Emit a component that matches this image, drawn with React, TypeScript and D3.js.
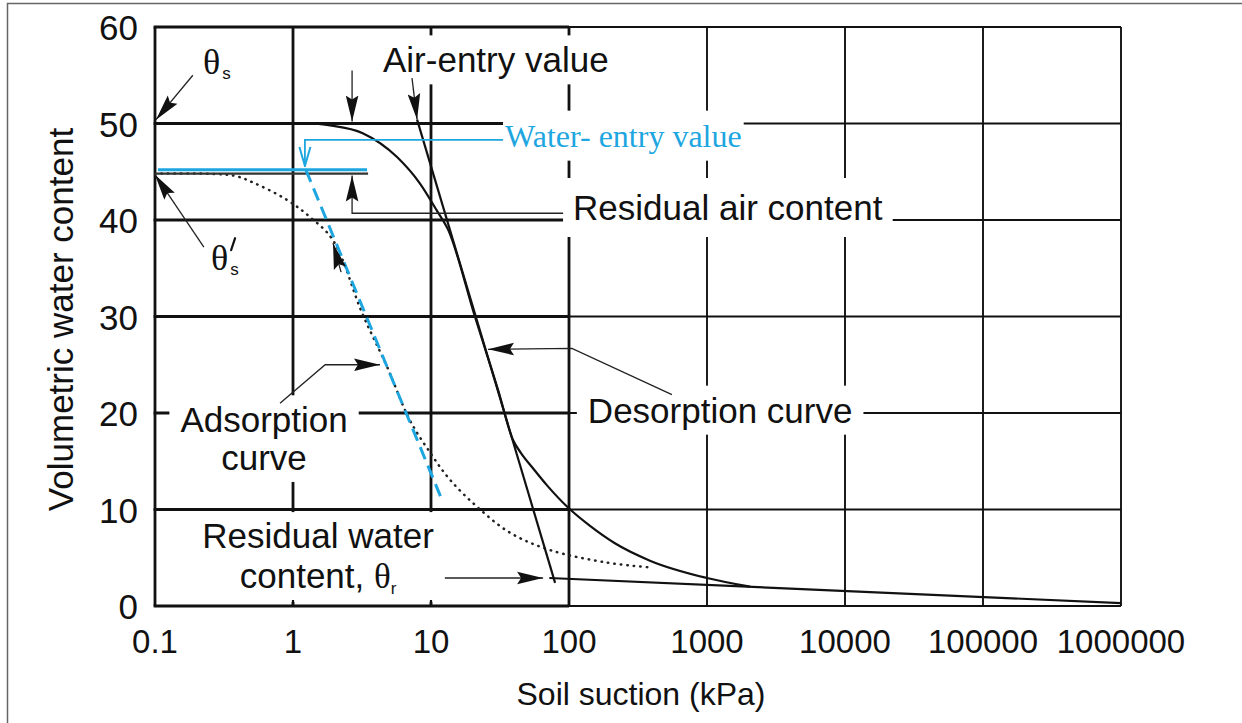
import * as d3 from 'd3';
import React, { useRef, useEffect } from 'react';

const width = 1242;
const height = 723;
const margin = { top: 27, right: 121, bottom: 117, left: 155 };

const SANS = '"Liberation Sans", Arial, sans-serif';
const SERIF = '"Liberation Serif", "Times New Roman", serif';
const BLUE = '#1DA6E0';
const INK = '#111';

// axes
const xTicks = [0.1, 1, 10, 100, 1000, 10000, 100000, 1000000];
const xTickLabels = ['0.1', '1', '10', '100', '1000', '10000', '100000', '1000000'];
const yTicks = [0, 10, 20, 30, 40, 50, 60];

// desorption (drying) curve, suction in kPa and volumetric water content in %
const desorptionSuction = [1.4, 1.85, 3.2, 5.7, 8.3, 11.0, 13.3, 20.8, 30.6, 39.3, 44.9, 53.9, 69.3, 98.4, 142, 215, 386, 1000, 2050];
const desorptionTheta = [50, 49.8, 49.0, 46.5, 43.8, 41.0, 39.0, 30.0, 22.4, 17.2, 15.85, 14.4, 12.5, 10.2, 8.3, 6.5, 4.7, 2.9, 2.0];

// residual branch of the desorption curve
const residualSuction = [72, 1000000];
const residualTheta = [2.9, 0.3];

// tangent used for the air-entry value
const tangentSuction = [7.93, 79.3];
const tangentTheta = [50.4, 2.4];

// adsorption (wetting) curve
const adsorptionSuction = [0.1, 0.37, 0.51, 0.9, 1.33, 1.95, 3.2, 4.8, 7.0, 9.85, 13.7, 21.5, 37.3, 72.8, 188, 386];
const adsorptionTheta = [44.8, 44.6, 43.9, 42.1, 40.3, 37.9, 30.2, 24.8, 19.3, 15.9, 13.1, 10.3, 7.6, 5.8, 4.5, 4.0];

// tangent used for the water-entry value
const waterEntrySuction = [1.24, 12.0];
const waterEntryTheta = [45.2, 11.0];

// plateau lines at the wetting saturation
const plateauSuction = [0.1, 3.5];
const plateauTheta = 44.8;
const plateauBlueSuction = [0.105, 3.44];
const plateauBlueTheta = 45.2;

// leader arrows: [suction, theta] points, arrow head at the last one
const arrows = [
  [[0.188, 55.0], [0.1017, 50.4]],
  [[0.226, 37.2], [0.1, 44.7]],
  [[2.68, 55.5], [2.68, 50.2]],
  [[7.28, 54.7], [7.93, 50.4]],
  [[90.6, 40.7], [2.68, 40.7], [2.68, 44.6]],
  [[0.805, 21.0], [1.71, 25.0], [4.27, 25.0]],
  [[2.23, 34.6], [1.95, 37.6]],
  [[557, 21.9], [105, 26.7], [25.9, 26.6]],
  [[12.6, 2.9], [64.9, 2.9]],
];
const waterEntryLeader = [[33.3, 48.3], [1.22, 48.3], [1.22, 45.6]];

const App = () => {
  const svgRef = useRef<SVGSVGElement>(null);

  useEffect(() => {
    const svg = d3.select(svgRef.current);
    svg.selectAll('*').remove();

    const x = d3.scaleLog().domain([0.1, 1000000]).range([margin.left, width - margin.right]);
    const y = d3.scaleLinear().domain([0, 60]).range([height - margin.bottom, margin.top]);
    const [x0, x1] = x.range();
    const [y0, y1] = y.range();
    const boxRight = x(100);

    const defs = svg.append('defs');
    defs.append('marker')
      .attr('id', 'arrow')
      .attr('viewBox', '0 -7 26 14')
      .attr('refX', 26).attr('refY', 0)
      .attr('markerWidth', 26).attr('markerHeight', 14)
      .attr('markerUnits', 'userSpaceOnUse')
      .attr('orient', 'auto')
      .append('path')
      .attr('d', 'M0,-6.3L26,0L0,6.3L4,0Z')
      .attr('fill', INK);
    defs.append('marker')
      .attr('id', 'arrowBlue')
      .attr('viewBox', '-1 -7 21 14')
      .attr('refX', 19).attr('refY', 0)
      .attr('markerWidth', 21).attr('markerHeight', 14)
      .attr('markerUnits', 'userSpaceOnUse')
      .attr('orient', 'auto')
      .append('path')
      .attr('d', 'M0,-5.5L19,0L0,5.5')
      .attr('fill', 'none')
      .attr('stroke', BLUE)
      .attr('stroke-width', 2);

    // outer frame of the figure
    svg.append('rect')
      .attr('x', 7.5).attr('y', 3.5)
      .attr('width', width).attr('height', height)
      .attr('fill', 'none').attr('stroke', '#666').attr('stroke-width', 1.5);

    // grid
    const grid = svg.append('g');
    xTicks.forEach(t => {
      grid.append('line')
        .attr('x1', x(t)).attr('x2', x(t))
        .attr('y1', y1).attr('y2', y0)
        .attr('stroke', INK)
        .attr('stroke-width', t <= 100 ? 2.8 : 1.9);
    });
    yTicks.forEach(t => {
      grid.append('line')
        .attr('x1', x0).attr('x2', x1)
        .attr('y1', y(t)).attr('y2', y(t))
        .attr('stroke', INK).attr('stroke-width', 1.9);
      grid.append('line')
        .attr('x1', x0 - 1.4).attr('x2', boxRight)
        .attr('y1', y(t)).attr('y2', y(t))
        .attr('stroke', INK).attr('stroke-width', 2.8);
    });

    // labels with a white box that breaks the grid behind them
    const label = (
      xPos: number,
      baselines: number[],
      lines: { text: string; font?: string; size?: number; dy?: number }[][],
      anchor: string,
      pad: [number, number],
      fill = INK,
      font = SANS,
      size = 35
    ) => {
      const g = svg.append('g');
      const rect = g.append('rect').attr('fill', 'white');
      lines.forEach((parts, i) => {
        const txt = g.append('text')
          .attr('x', xPos).attr('y', baselines[i])
          .attr('text-anchor', anchor)
          .attr('font-family', font)
          .attr('font-size', size)
          .attr('fill', fill);
        parts.forEach(p => {
          txt.append('tspan')
            .attr('font-family', p.font || font)
            .attr('font-size', p.size || size)
            .attr('dy', p.dy || 0)
            .text(p.text);
        });
      });
      const bb = (g.node() as SVGGElement).getBBox();
      rect.attr('x', bb.x - pad[0]).attr('y', bb.y - pad[1])
        .attr('width', bb.width + 2 * pad[0]).attr('height', bb.height + 2 * pad[1]);
    };

    label(x(4.49), [y(55.3)], [[{ text: 'Air-entry value' }]], 'start', [3, 5]);
    label(x(34.4), [y(47.6)], [[{ text: 'Water- entry value' }]], 'start', [2, 7], BLUE, SERIF, 32);
    label(x(107), [y(40)], [[{ text: 'Residual air content' }]], 'start', [10, 10]);
    label(x(137), [y(19)], [[{ text: 'Desorption curve' }]], 'start', [11, 5]);
    label(x(0.617), [y(18), y(14.1)], [[{ text: 'Adsorption' }], [{ text: 'curve' }]], 'middle', [11, 5]);
    label(
      x(1.52), [y(6.0), y(1.87)],
      [[{ text: 'Residual water' }], [{ text: 'content, ' }, { text: 'θ', font: SERIF }, { text: 'r', size: 17, dy: 6 }]],
      'middle', [5, 4]
    );

    // small ticks on the bottom axis inside the residual water box
    [1, 10].forEach(t => {
      svg.append('line')
        .attr('x1', x(t)).attr('x2', x(t))
        .attr('y1', y0 - 6).attr('y2', y0)
        .attr('stroke', INK).attr('stroke-width', 2.2);
    });

    // θs and θ's
    const thetaS = svg.append('text').attr('x', x(0.223)).attr('y', y(55.1))
      .attr('font-family', SERIF).attr('font-size', 36).attr('fill', INK);
    thetaS.append('tspan').text('θ');
    thetaS.append('tspan').attr('font-family', SANS).attr('font-size', 17)
      .attr('dx', 2).attr('dy', 5).text('s');

    const tx = x(0.255);
    const ty = y(34.8);
    const thetaS2 = svg.append('text').attr('x', tx).attr('y', ty)
      .attr('font-family', SERIF).attr('font-size', 36).attr('fill', INK);
    thetaS2.append('tspan').text('θ');
    thetaS2.append('tspan').attr('font-family', SANS).attr('font-size', 17)
      .attr('dx', 2).attr('dy', 5).text('s');
    // prime mark
    svg.append('line')
      .attr('x1', tx + 24).attr('y1', ty - 32)
      .attr('x2', tx + 20).attr('y2', ty - 20)
      .attr('stroke', INK).attr('stroke-width', 2.2).attr('stroke-linecap', 'round');

    // axis tick labels
    svg.append('g').selectAll('text')
      .data(xTicks)
      .join('text')
      .attr('x', d => x(d))
      .attr('y', y0 + 47)
      .attr('text-anchor', 'middle')
      .attr('font-family', SANS).attr('font-size', 33).attr('fill', INK)
      .text((_, i) => xTickLabels[i]);
    svg.append('g').selectAll('text')
      .data(yTicks)
      .join('text')
      .attr('x', x0 - 17)
      .attr('y', d => y(d) + 13)
      .attr('text-anchor', 'end')
      .attr('font-family', SANS).attr('font-size', 35).attr('fill', INK)
      .text(d => d);

    // axis titles
    svg.append('text')
      .attr('x', (x0 + x1) / 2 + 3).attr('y', y0 + 99)
      .attr('text-anchor', 'middle')
      .attr('font-family', SANS).attr('font-size', 32).attr('fill', INK)
      .text('Soil suction (kPa)');
    svg.append('text')
      .attr('transform', `translate(73,${(y0 + y1) / 2 + 3}) rotate(-90)`)
      .attr('text-anchor', 'middle')
      .attr('font-family', SANS).attr('font-size', 35).attr('fill', INK)
      .text('Volumetric water content');

    // curves
    const path = (S: number[], T: number[], curve: d3.CurveFactory) =>
      d3.line<number>()
        .x(i => x(S[i]))
        .y(i => y(T[i]))
        .curve(curve)(d3.range(S.length));

    svg.append('path')
      .attr('d', path(adsorptionSuction, adsorptionTheta, d3.curveCatmullRom.alpha(0.5)))
      .attr('fill', 'none').attr('stroke', '#222')
      .attr('stroke-width', 2.5).attr('stroke-dasharray', '0.5 6')
      .attr('stroke-linecap', 'round');

    svg.append('path')
      .attr('d', path(desorptionSuction, desorptionTheta, d3.curveMonotoneX))
      .attr('fill', 'none').attr('stroke', INK).attr('stroke-width', 2.2);

    svg.append('path')
      .attr('d', path(residualSuction, residualTheta, d3.curveLinear))
      .attr('fill', 'none').attr('stroke', INK).attr('stroke-width', 2.2);

    svg.append('path')
      .attr('d', path(tangentSuction, tangentTheta, d3.curveLinear))
      .attr('fill', 'none').attr('stroke', INK).attr('stroke-width', 2.2);

    svg.append('line')
      .attr('x1', x(plateauSuction[0])).attr('x2', x(plateauSuction[1]))
      .attr('y1', y(plateauTheta)).attr('y2', y(plateauTheta))
      .attr('stroke', '#333').attr('stroke-width', 2.2);
    svg.append('line')
      .attr('x1', x(plateauBlueSuction[0])).attr('x2', x(plateauBlueSuction[1]))
      .attr('y1', y(plateauBlueTheta)).attr('y2', y(plateauBlueTheta))
      .attr('stroke', BLUE).attr('stroke-width', 3);

    svg.append('path')
      .attr('d', path(waterEntrySuction, waterEntryTheta, d3.curveLinear))
      .attr('fill', 'none').attr('stroke', BLUE)
      .attr('stroke-width', 3).attr('stroke-dasharray', '13 7');

    // leaders and arrows
    const leader = d3.line<number[]>().x(p => x(p[0])).y(p => y(p[1]));
    arrows.forEach(pts => {
      svg.append('path')
        .attr('d', leader(pts))
        .attr('fill', 'none').attr('stroke', '#222').attr('stroke-width', 1.3)
        .attr('marker-end', 'url(#arrow)');
    });
    svg.append('path')
      .attr('d', leader(waterEntryLeader))
      .attr('fill', 'none').attr('stroke', BLUE).attr('stroke-width', 1.8)
      .attr('marker-end', 'url(#arrowBlue)');
  }, []);

  return (
    <svg
      ref={svgRef}
      width={width}
      height={height}
      style={{ position: 'absolute', left: 0, top: 0, background: 'white' }}
    />
  );
};

export default App;
